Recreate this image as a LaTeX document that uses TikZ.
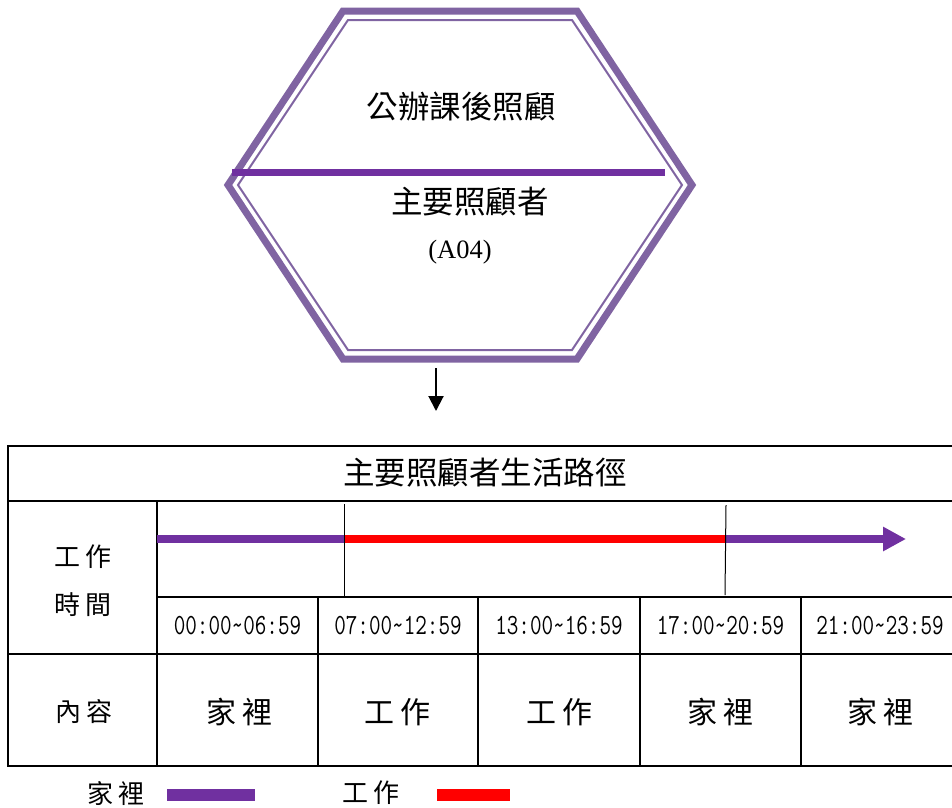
\documentclass[tikz,border=0pt]{standalone}
\usepackage{fontspec}
\usepackage{graphicx}
\usetikzlibrary{arrows.meta}
\newfontfamily\cjk{Noto Sans CJK TC}
\newfontfamily\tnr{Liberation Serif}
\definecolor{hexpurple}{RGB}{128,100,162}
\definecolor{homepurple}{RGB}{112,48,160}
\definecolor{workred}{RGB}{255,0,0}
\newcommand{\mytimelbl}[1]{\scalebox{1}[1.3]{\ttfamily\fontsize{22.5}{27}\selectfont #1}}
\begin{document}
\begin{tikzpicture}[x=1pt,y=-1pt,
  hexouter/.style={draw=hexpurple,line width=7pt,line join=miter},
  hexinner/.style={draw=hexpurple,line width=2pt,line join=miter},
  gridline/.style={line width=2pt,line cap=rect},
  marker/.style={line width=1pt},
  bigtxt/.style={inner sep=0pt,font=\cjk\fontsize{31.5}{36}\selectfont},
  celltxt/.style={inner sep=0pt,font=\cjk\fontsize{30}{36}\selectfont},
  smalltxt/.style={inner sep=0pt,font=\cjk\fontsize{26}{32}\selectfont},
  timetxt/.style={inner sep=0pt},
  homeline/.style={draw=homepurple,line width=8pt},
  workline/.style={draw=workred,line width=8pt}
]
\useasboundingbox (0,0) rectangle (952,807);

% hexagon
\draw[hexouter] (343,11) -- (577,11) -- (692,185) -- (577,359) -- (343,359) -- (228,185) -- cycle;
\draw[hexinner] (348,20) -- (572,20) -- (682,185) -- (572,350) -- (348,350) -- (238,185) -- cycle;
\draw[draw=homepurple,line width=7pt] (232,172) -- (665,172);
\node[bigtxt] (hextop) at (461,107) {公辦課後照顧};
\node[bigtxt] (hexmid) at (470,202) {主要照顧者};
\node[inner sep=0pt,font=\tnr\fontsize{26.5}{30}\selectfont] (hexcode) at (460,252) {(A04)};

% arrow
\coordinate (arrstart) at (436,368);
\coordinate (arrend) at (436,411);
\draw[line width=2pt,-{Triangle[length=15pt,width=15pt]}] (arrstart) -- (arrend);

% table grid
\draw[gridline] (8,445.5) -- (952,445.5);
\draw[gridline] (8,501) -- (952,501);
\draw[gridline] (157,597) -- (952,597);
\draw[gridline] (8,654) -- (952,654);
\draw[gridline] (8,766) -- (952,766);
\draw[gridline] (8,445.5) -- (8,766);
\draw[gridline] (157,501) -- (157,766);
\foreach \cx in {318,478,640,801} {\draw[gridline] (\cx,597) -- (\cx,766);}

% title
\node[bigtxt] (title) at (485,473) {主要照顧者生活路徑};

% left labels
\node[smalltxt] (lblwork) at (83,557) {工\hspace{6pt}作};
\node[smalltxt] (lbltime) at (83,605) {時\hspace{6pt}間};
\node[smalltxt] (lblcontent) at (84,712) {內\hspace{6pt}容};

% timeline
\coordinate (t0) at (157,539);
\coordinate (t1) at (344,539);
\coordinate (t2) at (726,539);
\coordinate (t3) at (906,539);
\draw[homeline] (t0) -- (t1);
\draw[workline] (t1) -- (t2);
\draw[homeline,-{Triangle[length=23pt,width=23pt]}] (t2) -- (t3);
\draw[marker] (344,504) -- (344,596);
\draw[marker] (726,505) -- (725,595);

% time labels
\node[timetxt] (tl1) at (237.5,626) {\mytimelbl{00:00\textasciitilde 06:59}};
\node[timetxt] (tl2) at (398,626) {\mytimelbl{07:00\textasciitilde 12:59}};
\node[timetxt] (tl3) at (559,626) {\mytimelbl{13:00\textasciitilde 16:59}};
\node[timetxt] (tl4) at (720.5,626) {\mytimelbl{17:00\textasciitilde 20:59}};
\node[timetxt] (tl5) at (880,626) {\mytimelbl{21:00\textasciitilde 23:59}};

% content
\node[celltxt] (c1) at (239,712) {家\hspace{6pt}裡};
\node[celltxt] (c2) at (397,712) {工\hspace{6pt}作};
\node[celltxt] (c3) at (559,712) {工\hspace{6pt}作};
\node[celltxt] (c4) at (720,712) {家\hspace{6pt}裡};
\node[celltxt] (c5) at (880,712) {家\hspace{6pt}裡};

% legend
\node[smalltxt] (leghome) at (116,793) {家\hspace{5pt}裡};
\fill[homepurple] (167,789) rectangle (255,801);
\node[smalltxt] (legwork) at (371,793) {工\hspace{5pt}作};
\fill[workred] (437,789) rectangle (510,801);
\end{tikzpicture}
\end{document}
